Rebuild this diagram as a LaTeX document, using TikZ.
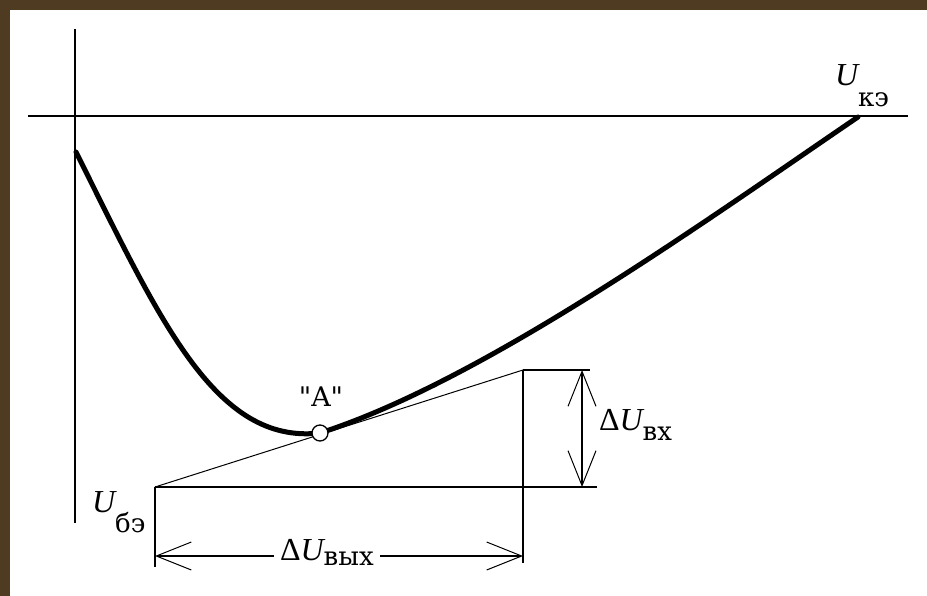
\documentclass[tikz,border=0pt]{standalone}
\usepackage{fontspec}
\setmainfont{Liberation Serif}[Ligatures=TeXOff]
\newfontfamily\subfam{DejaVu Serif}[Ligatures=TeXOff]
\usetikzlibrary{arrows.meta}
\definecolor{frame}{RGB}{79,59,34}
\newcommand{\ufont}{\fontsize{32}{36}\selectfont\itshape}
\newcommand{\dfont}{\fontsize{32}{36}\selectfont\upshape}
\newcommand{\subf}{\fontsize{26}{30}\selectfont\subfam\upshape}
\tikzset{
  axis/.style={line width=1.8pt},
  curve/.style={line width=5pt, line cap=round, line join=round},
  thin/.style={line width=1.3pt},
  tang/.style={line width=1pt},
  dim/.style={line width=1.3pt, {Straight Barb[length=35pt,width=28pt,line width=1pt]}-{Straight Barb[length=35pt,width=28pt,line width=1pt]}},
  lbl/.style={inner sep=0pt, outer sep=0pt, anchor=base west},
}
\begin{document}
\begin{tikzpicture}[x=1pt,y=-1pt]
\fill[frame] (0,0) rectangle (927,596);
\fill[white] (10,10) rectangle (927,596);
\useasboundingbox (0,0) rectangle (927,596);
% coordinates
\coordinate (yt) at (75,29);
\coordinate (yb) at (75,523);
\coordinate (xl) at (28,116);
\coordinate (xr) at (908,116);
\coordinate (C0) at (76,152);
\coordinate (C1) at (858,117);
\coordinate (T1) at (155,487);
\coordinate (T2) at (523,370);
\coordinate (R1) at (590,370);
\coordinate (R2) at (597,487);
\coordinate (V1) at (523,563);
\coordinate (V2) at (155,567);
\coordinate (D1) at (582,370);
\coordinate (D2) at (582,487);
\coordinate (H1) at (155,556);
\coordinate (H2) at (523,556);
% axes
\draw[axis] (yt) -- (yb);
\draw[axis] (xl) -- (xr);
% point A (named) and characteristic curve
\node[circle, minimum size=16pt, inner sep=0pt] (A) at (320,433) {};
\draw[curve] (C0) .. controls (160,320) and (215,445) .. (A.center)
                  .. controls (485,380) and (708,219) .. (C1);
% construction lines
\draw[tang] (T1) -- (T2);
\draw[thin] (T2) -- (R1);
\draw[thin] (T1) -- (R2);
\draw[thin] (T2) -- (V1);
\draw[thin] (T1) -- (V2);
% dimension arrows
\draw[dim] (D1) -- (D2);
\draw[dim] (H1) -- (H2);
\node[circle, draw, fill=white, line width=1.3pt, minimum size=16pt, inner sep=0pt] at (A) {};
\node[lbl, anchor=base] (Alab) at (321,406) {\fontsize{27}{30}\selectfont\subfam "A"};
% labels
\node[lbl] (uke) at (835,86) {\ufont U\raisebox{-21pt}{\subf кэ}};
\node[lbl] (ube) at (92,512) {\ufont U\raisebox{-20pt}{\subf бэ}};
\node[lbl] (duvx) at (599,430) {\dfont Δ\ufont U\raisebox{-10pt}{\subf вх}};
\node[lbl, fill=white, inner xsep=6pt, inner ysep=4pt] (duvyx) at (274,560) {\dfont Δ\ufont U\raisebox{-5pt}{\subf вых}};
\end{tikzpicture}
\end{document}
